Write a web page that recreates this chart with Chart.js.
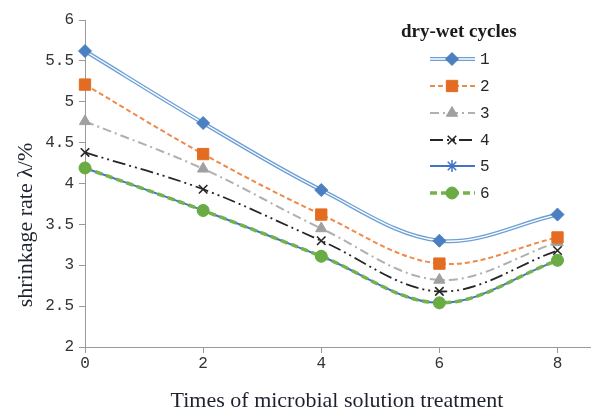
<!DOCTYPE html>
<html>
<head>
<meta charset="utf-8">
<script src="https://cdn.jsdelivr.net/npm/chart.js@4.4.0/dist/chart.umd.min.js"></script>
<style>
html,body{margin:0;padding:0;background:#fff;}
#wrap{width:592px;height:412px;position:relative;}
</style>
</head>
<body>
<div id="wrap"><canvas id="c" width="592" height="412"></canvas></div>
<script>
const xValues = [0, 2, 4, 6, 8];
const xTicks = [0, 2, 4, 6, 8];
const yTicks = [2, 2.5, 3, 3.5, 4, 4.5, 5, 5.5, 6];
const seriesNames = ['1', '2', '3', '4', '5', '6'];
const s1 = [5.62, 4.74, 3.92, 3.30, 3.62];
const s2 = [5.21, 4.36, 3.62, 3.02, 3.34];
const s3 = [4.76, 4.18, 3.45, 2.82, 3.28];
const s4 = [4.38, 3.93, 3.30, 2.68, 3.18];
const s5 = [4.19, 3.67, 3.11, 2.54, 3.06];
const s6 = [4.19, 3.67, 3.11, 2.54, 3.06];
const legendTitle = 'dry-wet cycles';
const xTitle = 'Times of microbial solution treatment';
const yTitle = 'shrinkage rate λ/%';

const pts = arr => arr.map((v, i) => ({x: xValues[i], y: v}));
const T = 0.35;

const styles = [
  {color:'#4a7fc1', line:'#6d9fd6', width:4, dash:[], point:'rectRot', r:6.5, double:true},
  {color:'#e46c22', line:'#ee8a4a', width:2, dash:[5,3], point:'rect', r:8},
  {color:'#a0a0a0', line:'#b0b0b0', width:2, dash:[9,4,2,4], point:'triangle', r:6.5},
  {color:'#262626', line:'#262626', width:1.8, dash:[13,4,2,4,2,4], point:'crossRot', r:6, bw:1.6},
  {color:'#4472c4', line:'#4472c4', width:2, dash:[], point:'star', r:6, bw:1.5},
  {color:'#6aab44', line:'#74b24c', width:3.5, dash:[7,4], point:'circle', r:6}
];
const seriesData = [s1, s2, s3, s4, s5, s6];

const datasets = [];
const orders = [5, 6, 7, 8, 10, 9];
seriesData.forEach((arr, i) => {
  const st = styles[i];
  if (st.double) {
    datasets.push({label: seriesNames[i], data: pts(arr), borderColor: st.line, borderWidth: st.width,
      tension: T, pointRadius: 0, fill: false, order: 5, clip: false});
    datasets.push({label: '_w', data: pts(arr), borderColor: '#ffffff', borderWidth: 1.3,
      tension: T, pointRadius: 0, fill: false, order: 4, clip: false});
    datasets.push({label: '_p', data: pts(arr), showLine: false, pointStyle: st.point, pointRadius: st.r,
      pointBackgroundColor: st.color, pointBorderColor: st.color, pointBorderWidth: 1, order: 3, clip: false});
  } else {
    datasets.push({label: seriesNames[i], data: pts(arr), borderColor: st.line, borderWidth: st.width,
      borderDash: st.dash, tension: T, pointStyle: st.point, pointRadius: st.r,
      pointBackgroundColor: st.color, pointBorderColor: st.color, pointBorderWidth: st.bw || 1,
      fill: false, order: orders[i], clip: false});
  }
});

const textPlugin = {
  id: 'texts',
  afterDraw(chart) {
    const ctx = chart.ctx;
    ctx.save();
    ctx.fillStyle = '#1e2230';
    ctx.font = '22px "Liberation Serif", serif';
    ctx.textAlign = 'center';
    ctx.textBaseline = 'middle';
    ctx.save();
    ctx.translate(26, 225);
    ctx.rotate(-Math.PI / 2);
    ctx.fillText(yTitle, 0, 0);
    ctx.restore();
    ctx.fillText(xTitle, 337, 401);
    ctx.font = 'bold 19px "Liberation Serif", serif';
    ctx.fillStyle = '#1a1a1a';
    ctx.textAlign = 'left';
    ctx.fillText(legendTitle, 401, 32);
    const ys = [59, 86, 113, 140, 166, 193];
    styles.forEach((st, i) => {
      const y = ys[i];
      const x0 = 430, x1 = 475, xm = 452;
      ctx.save();
      ctx.strokeStyle = st.line;
      ctx.lineWidth = st.width;
      ctx.setLineDash(st.dash);
      ctx.beginPath(); ctx.moveTo(x0, y); ctx.lineTo(x1, y); ctx.stroke();
      if (st.double) {
        ctx.strokeStyle = '#fff'; ctx.lineWidth = 1.3; ctx.setLineDash([]);
        ctx.beginPath(); ctx.moveTo(x0, y); ctx.lineTo(x1, y); ctx.stroke();
      }
      ctx.setLineDash([]);
      ctx.fillStyle = st.color; ctx.strokeStyle = st.color; ctx.lineWidth = st.bw || 1;
      Chart.helpers.drawPoint(ctx, {pointStyle: st.point, radius: st.r, rotation: 0, borderWidth: st.bw || 1}, xm, y);
      ctx.restore();
      ctx.font = '16px "Liberation Mono", monospace';
      ctx.fillStyle = '#262626';
      ctx.textAlign = 'left';
      ctx.fillText(seriesNames[i], 480, y + 1);
    });
    ctx.restore();
  }
};

new Chart(document.getElementById('c'), {
  type: 'line',
  data: {datasets},
  options: {
    responsive: false,
    animation: false,
    devicePixelRatio: 1,
    layout: {autoPadding: false, padding: {top: 20, right: 2, left: 0, bottom: 0}},
    plugins: {legend: {display: false}, tooltip: {enabled: false}},
    scales: {
      x: {
        type: 'linear', min: 0, max: 8.55,
        afterBuildTicks: s => { s.ticks = xTicks.map(v => ({value: v})); },
        afterFit: s => { s.height = 65; s.paddingRight = 0; s.paddingLeft = 0; },
        grid: {display: true, drawOnChartArea: false, drawTicks: true, tickLength: 6, color: '#9a9a9a'},
        border: {display: true, color: '#9a9a9a', width: 1},
        ticks: {padding: 1, color: '#333', font: {family: '"Liberation Mono", monospace', size: 16}, maxRotation: 0, autoSkip: false}
      },
      y: {
        type: 'linear', min: 2, max: 6,
        afterBuildTicks: s => { s.ticks = yTicks.map(v => ({value: v})); },
        afterFit: s => { s.width = 85; s.paddingTop = 0; s.paddingBottom = 0; },
        grid: {display: true, drawOnChartArea: false, drawTicks: true, tickLength: 6, color: '#9a9a9a'},
        border: {display: true, color: '#9a9a9a', width: 1},
        ticks: {padding: 5, color: '#333', font: {family: '"Liberation Mono", monospace', size: 16},
          callback: v => String(v)}
      }
    }
  },
  plugins: [textPlugin]
});
</script>
</body>
</html>
